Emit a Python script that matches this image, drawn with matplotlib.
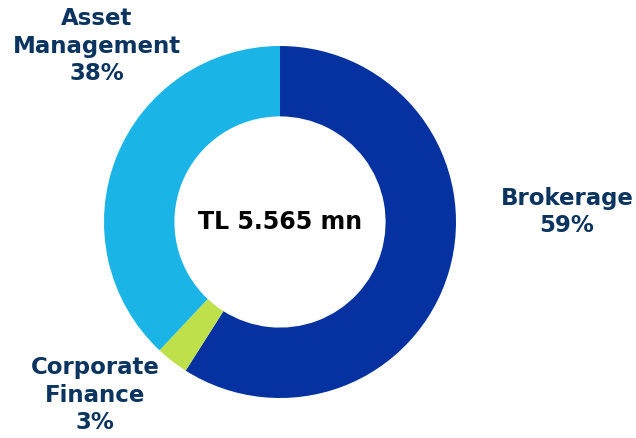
import matplotlib
matplotlib.use("Agg")
import matplotlib.pyplot as plt

# Gelir dağılımı
segments = ["Brokerage", "Corporate\nFinance", "Asset\nManagement"]
shares = [59, 3, 38]
colors = ["#0532A0", "#BEE04A", "#1AB4E6"]
center_label = "TL 5.565 mn"

W, H = 636, 438
fig = plt.figure(figsize=(W / 100, H / 100), dpi=100)
ax = fig.add_axes([104 / W, (H - 398) / H, 352 / W, 352 / H])
ax.pie(shares, colors=colors, startangle=90, counterclock=False, radius=1,
       wedgeprops=dict(width=0.4, edgecolor="none"))
ax.set_xlim(-1, 1)
ax.set_ylim(-1, 1)
ax.set_aspect("equal")
ax.axis("off")

ax.text(0, 0.0, center_label, ha="center", va="center", fontsize=17,
        fontweight="bold", color="black")

txt_color = "#0B3560"
label_pos = {0: (567, 212), 1: (95, 395), 2: (97, 46)}
for i, (name, pct) in enumerate(zip(segments, shares)):
    x, y = label_pos[i]
    fig.text(x / W, 1 - y / H, f"{name}\n{pct}%", ha="center", va="center",
             fontsize=16.5, fontweight="bold", color=txt_color, linespacing=1.25)

fig.savefig("out.png", dpi=100)
